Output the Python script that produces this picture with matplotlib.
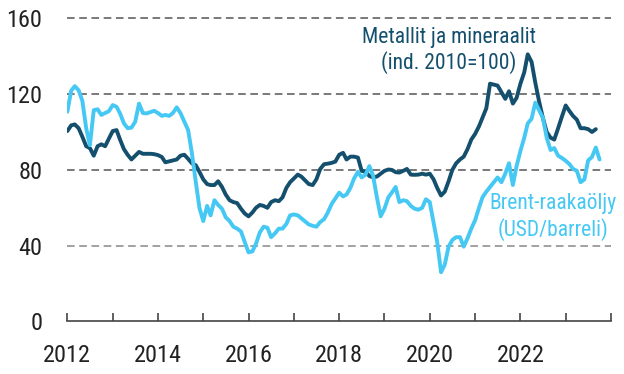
import numpy as np
import pandas as pd
import matplotlib
matplotlib.use("Agg")
import matplotlib.pyplot as plt
import matplotlib.dates as mdates

plt.rcParams['font.family'] = ['Roboto Condensed', 'Liberation Sans Narrow', 'DejaVu Sans']
plt.rcParams['font.stretch'] = 'condensed'

# monthly series, starting January 2012
metals = [
    100.5, 103.5, 104, 102, 97.5, 92.5, 91.5, 87.5, 92.5, 93.5, 92.5, 96.5,
    100.5, 101, 96, 91, 88, 85.5, 87.5, 89.5, 88.5, 88.5, 88.5, 88.3,
    87.8, 86.8, 84, 84.5, 85, 85.5, 87.5, 88, 85.8, 83.5, 82.5, 79,
    75, 72.5, 72, 72, 74, 71, 67, 64, 63, 62.5, 59.5, 57,
    55.5, 57.5, 60, 61.5, 61, 60, 63, 64, 63.5, 65.5, 70.5, 73.5,
    75.5, 77.5, 76.5, 74.5, 72.5, 72, 75, 80.5, 83, 83.3, 83.7, 84.4,
    88, 89, 85.5, 87, 87, 86.5, 79.5, 79, 76.8, 76, 76.5, 78,
    79.5, 80.2, 80, 78.8, 78.6, 79.5, 80.5, 77.5, 77.4, 77.5, 78, 77.5,
    78, 75, 70.5, 66.5, 68.5, 74, 80, 83.5, 85.5, 87, 91, 96,
    99, 103, 107.5, 112.5, 125.5, 125, 124.5, 121, 117.5, 121.5, 115, 118,
    125.5, 131.5, 141, 137, 126, 116, 107.5, 100, 97, 96, 102, 108,
    114, 111, 108.5, 106.5, 102, 102, 101.5, 100, 101.5,
]

brent = [
    110.7, 121.8, 124.2, 122, 116.5, 102, 93, 111.5, 112, 109, 110, 111,
    114.2, 113.3, 109.8, 104.6, 102, 102.3, 105.4, 115, 110, 109.8, 110.5, 111.2,
    110, 108.5, 109, 108.5, 110, 113, 110, 105.5, 101, 89, 74, 60,
    53, 61, 56, 64, 61.5, 59.5, 55, 53, 50, 49, 47.5, 42,
    36.5, 37, 41, 47, 50, 49.5, 44.5, 46.5, 49, 49, 51.5, 56,
    56.5, 56, 54.5, 52.8, 51.2, 50.5, 50, 52.5, 54, 57.5, 62, 65,
    68, 66, 67, 70.5, 75.5, 79, 76, 77.5, 82, 77, 65.5, 55.5,
    59.5, 65.5, 68, 71, 63, 64, 63.5, 61, 59.5, 59, 60, 64.5,
    63, 52, 42, 26, 30, 39.5, 43, 44.5, 44.5, 39.5, 44, 49,
    53.5, 60, 65.5, 68.5, 71, 73.5, 76, 73.5, 78, 83.5, 72, 82,
    90, 97, 104.5, 107, 115.5, 111.5, 107.5, 97, 90.5, 91.5, 87.5, 86.3,
    84.8, 83, 80.5, 79.5, 73.5, 75, 85, 86.8, 91.8, 85.5,
]

metals_dates = pd.date_range('2012-01-01', periods=len(metals), freq='MS')
brent_dates = pd.date_range('2012-01-01', periods=len(brent), freq='MS')

yticks = [0, 40, 80, 120, 160]

dark = '#14506e'
light = '#45c8f3'

fig = plt.figure(figsize=(6.24, 3.74), dpi=100)
ax = fig.add_axes([0.1079, 0.1404, 0.8712, 0.8208])

ax.plot(metals_dates, metals, color=dark, lw=2.8, solid_capstyle='round',
        solid_joinstyle='round', zorder=3)
ax.plot(brent_dates, brent, color=light, lw=2.8, solid_capstyle='round',
        solid_joinstyle='round', zorder=4)

ax.set_xlim(pd.Timestamp('2012-01-01'), pd.Timestamp('2024-01-01'))
ax.set_ylim(0, 162)

# dashed horizontal grid
for v in yticks[1:]:
    ax.axhline(v, color='#888888' if v == 40 else '#555555', lw=1.1,
               ls=(0, (5, 3)), zorder=1)

ax.set_yticks(yticks)
ax.tick_params(axis='y', length=0, pad=18, labelsize=17.5, labelcolor='#222222')

ax.xaxis.set_major_locator(mdates.YearLocator(1))
ax.xaxis.set_major_formatter(
    plt.FuncFormatter(lambda x, pos: mdates.num2date(x).strftime('%Y')
                      if mdates.num2date(x).year % 2 == 0
                      and mdates.num2date(x).year < 2024 else ''))
ax.tick_params(axis='x', direction='in', length=6, width=1.2, color='#444444',
               pad=16, labelsize=17.5, labelcolor='#222222')

for side in ['top', 'right', 'left']:
    ax.spines[side].set_visible(False)
ax.spines['bottom'].set_color('#444444')
ax.spines['bottom'].set_linewidth(1.2)

ax.text(pd.Timestamp('2020-06-05'), 143, 'Metallit ja mineraalit\n(ind. 2010=100)',
        color=dark, fontsize=15.5, ha='center', va='center', linespacing=1.2)
ax.text(pd.Timestamp('2022-09-20'), 55, 'Brent-raakaöljy\n(USD/barreli)',
        color=light, fontsize=15.5, ha='center', va='center', linespacing=1.2)

fig.savefig('out.png', dpi=100)
